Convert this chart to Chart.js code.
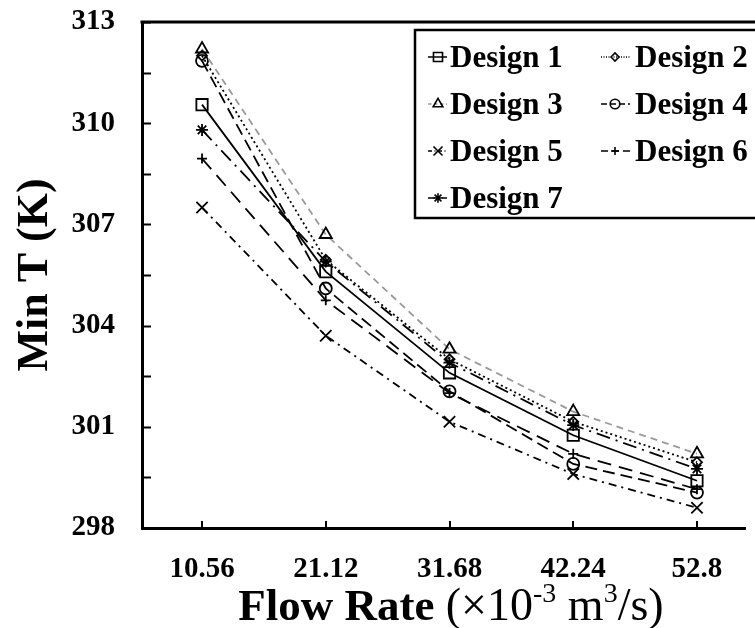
<!DOCTYPE html>
<html>
<head>
<meta charset="utf-8">
<script src="https://cdn.jsdelivr.net/npm/chart.js@4.4.1/dist/chart.umd.min.js"></script>
<style>
  html, body { margin: 0; padding: 0; background: #fff; overflow: hidden; }
  #chart { display: block; }
</style>
</head>
<body>
<canvas id="chart" width="755" height="628"></canvas>
<script>
// flow rate (x10^-3 m^3/s) and minimum temperature (K) per design
const flowRates = [10.56, 21.12, 31.68, 42.24, 52.8];
const flowRateLabels = ['10.56', '21.12', '31.68', '42.24', '52.8'];

const design1 = [310.55, 305.6, 302.6, 300.75, 299.4];
const design2 = [312.0, 305.95, 303.0, 301.15, 299.95];
const design3 = [312.2, 306.7, 303.3, 301.45, 300.2];
const design4 = [311.85, 305.1, 302.05, 299.9, 299.05];
const design5 = [307.5, 303.7, 301.15, 299.6, 298.6];
const design6 = [308.95, 304.75, 302.0, 300.2, 299.15];
const design7 = [309.8, 305.9, 302.9, 301.05, 299.75];

const yTickLabels = [298, 301, 304, 307, 310, 313];

const SERIF = '"Liberation Serif", "Times New Roman", serif';

function toPoints(values) {
    return values.map((v, i) => ({ x: flowRates[i], y: v }));
}

function series(label, values, style) {
    return Object.assign({
        label: label,
        data: toPoints(values),
        borderColor: '#000',
        borderWidth: 1.8,
        borderDash: [],
        pointBorderColor: '#000',
        pointBackgroundColor: 'rgba(0,0,0,0)',
        pointBorderWidth: 1.8,
        tension: 0,
        fill: false,
    }, style);
}

const datasets = [
    series('Design 1', design1, { pointStyle: 'rect', pointRadius: 8 }),
    series('Design 2', design2, { borderDash: [2, 3], pointStyle: 'rectRot', pointRadius: 5 }),
    series('Design 3', design3, { borderColor: '#999', borderDash: [7, 5], pointStyle: 'triangle', pointRadius: 7 }),
    series('Design 4', design4, { borderDash: [12, 6], pointStyle: 'circle', pointRadius: 6 }),
    series('Design 5', design5, { borderDash: [8, 5, 2, 5], pointStyle: 'crossRot', pointRadius: 8 }),
    series('Design 6', design6, { borderDash: [14, 8], pointStyle: 'cross', pointRadius: 5 }),
    series('Design 7', design7, { borderDash: [14, 6, 2, 6], pointStyle: 'star', pointRadius: 6 }),
];

// frame top line and inward tick marks
const framePlugin = {
    id: 'frame',
    afterDraw(chart) {
        const { ctx, chartArea } = chart;
        const xScale = chart.scales.x;
        const yScale = chart.scales.y;
        ctx.save();
        ctx.strokeStyle = '#000';
        ctx.setLineDash([]);
        ctx.lineWidth = 3;
        ctx.beginPath();
        ctx.moveTo(chartArea.left - 1.5, chartArea.top);
        ctx.lineTo(chart.width, chartArea.top);
        ctx.stroke();

        ctx.lineWidth = 2;
        ctx.beginPath();
        yScale.ticks.forEach((t) => {
            const y = Math.round(yScale.getPixelForValue(t.value)) + 0.5;
            ctx.moveTo(chartArea.left, y);
            ctx.lineTo(chartArea.left + 9, y);
        });
        xScale.ticks.forEach((t) => {
            const x = Math.round(xScale.getPixelForValue(t.value));
            ctx.moveTo(x, chartArea.bottom);
            ctx.lineTo(x, chartArea.bottom - 7);
        });
        ctx.stroke();
        ctx.restore();
    },
};

// boxed legend in two columns inside the plot
const legendPlugin = {
    id: 'boxLegend',
    afterDraw(chart) {
        const { ctx } = chart;
        const box = { x: 415, y: 30, w: 360, h: 188 };
        const cols = [
            { lineFrom: 428, lineTo: 447, mark: 438, text: 450 },
            { lineFrom: 601, lineTo: 630, mark: 615, text: 635 },
        ];
        const rows = [67, 114, 161, 208];

        ctx.save();
        ctx.fillStyle = '#fff';
        ctx.fillRect(box.x, box.y, box.w, box.h);
        ctx.strokeStyle = '#000';
        ctx.lineWidth = 2.5;
        ctx.setLineDash([]);
        ctx.strokeRect(box.x, box.y, box.w, box.h);

        chart.data.datasets.forEach((ds, i) => {
            const col = cols[i % 2];
            const base = rows[Math.floor(i / 2)];
            const my = base - 10;

            ctx.strokeStyle = ds.borderColor;
            ctx.lineWidth = 1.5;
            ctx.setLineDash(ds.borderDash.map((d) => d * 0.5));
            ctx.beginPath();
            ctx.moveTo(col.lineFrom, my);
            ctx.lineTo(col.lineTo, my);
            ctx.stroke();

            ctx.setLineDash([]);
            ctx.strokeStyle = '#000';
            ctx.fillStyle = 'rgba(0,0,0,0)';
            ctx.lineWidth = 1.6;
            Chart.helpers.drawPoint(ctx, {
                pointStyle: ds.pointStyle,
                radius: ds.pointRadius * 0.8,
                rotation: 0,
                borderWidth: 1.6,
            }, col.mark, my);

            ctx.fillStyle = '#000';
            ctx.font = 'bold 31px ' + SERIF;
            ctx.textAlign = 'left';
            ctx.textBaseline = 'alphabetic';
            ctx.fillText(ds.label, col.text, base);
        });
        ctx.restore();
    },
};

// x axis title with superscripts
const xTitleParts = [
    { text: 'Flow Rate ', font: 'bold 45px ' + SERIF, rise: 0 },
    { text: '(×10', font: '46px ' + SERIF, rise: 0 },
    { text: '-3', font: '28px ' + SERIF, rise: 18 },
    { text: ' m', font: '46px ' + SERIF, rise: 0 },
    { text: '3', font: '28px ' + SERIF, rise: 18 },
    { text: '/s)', font: '46px ' + SERIF, rise: 0 },
];

const xTitlePlugin = {
    id: 'xTitle',
    afterDraw(chart) {
        const { ctx } = chart;
        const centerX = 451;
        const baseline = 620;
        ctx.save();
        ctx.fillStyle = '#000';
        ctx.textAlign = 'left';
        ctx.textBaseline = 'alphabetic';
        let total = 0;
        xTitleParts.forEach((p) => {
            ctx.font = p.font;
            p.width = ctx.measureText(p.text).width;
            total += p.width;
        });
        let x = centerX - total / 2;
        xTitleParts.forEach((p) => {
            ctx.font = p.font;
            ctx.fillText(p.text, x, baseline - p.rise);
            x += p.width;
        });
        ctx.restore();
    },
};

new Chart(document.getElementById('chart'), {
    type: 'line',
    data: { datasets: datasets },
    options: {
        responsive: false,
        animation: false,
        layout: { padding: { top: 22, right: 0, left: 0, bottom: 0 } },
        plugins: {
            legend: { display: false },
            tooltip: { enabled: false },
        },
        scales: {
            x: {
                type: 'linear',
                min: 5.437,
                max: 56.915,
                afterBuildTicks: (scale) => {
                    scale.ticks = flowRates.map((v) => ({ value: v }));
                },
                afterFit: (scale) => {
                    scale.height = 100;
                    scale.paddingLeft = 0;
                    scale.paddingRight = 0;
                },
                grid: { display: false, drawTicks: false },
                border: { display: true, color: '#000', width: 3 },
                ticks: {
                    autoSkip: false,
                    maxRotation: 0,
                    padding: 24,
                    color: '#000',
                    font: { family: SERIF, size: 29, weight: 'bold' },
                    callback: (value) => {
                        const i = flowRates.indexOf(value);
                        return i >= 0 ? flowRateLabels[i] : '';
                    },
                },
            },
            y: {
                min: 298,
                max: 313,
                afterFit: (scale) => {
                    scale.width = 142;
                    scale.paddingTop = 0;
                    scale.paddingBottom = 0;
                },
                grid: { display: false, drawTicks: false },
                border: { display: true, color: '#000', width: 3 },
                ticks: {
                    stepSize: 1.5,
                    padding: 27,
                    color: '#000',
                    font: { family: SERIF, size: 29, weight: 'bold' },
                    callback: (value) => (yTickLabels.includes(value) ? String(value) : ''),
                },
                title: {
                    display: true,
                    text: 'Min T (K)',
                    color: '#000',
                    padding: { top: 14, bottom: 0 },
                    font: { family: SERIF, size: 44, weight: 'bold', lineHeight: 1 },
                },
            },
        },
    },
    plugins: [framePlugin, legendPlugin, xTitlePlugin],
});
</script>
</body>
</html>
